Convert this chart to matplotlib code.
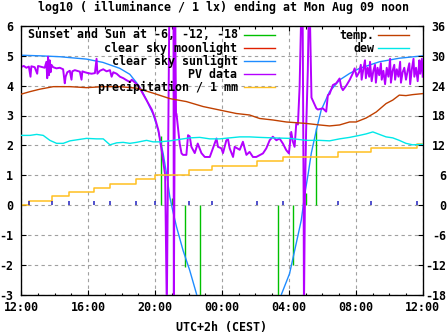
import matplotlib
matplotlib.use('Agg')
import matplotlib.pyplot as plt
from matplotlib.lines import Line2D

# ---------------- data (hours after 12:00 on the left edge) ----------------
x_ticks = [0, 4, 8, 12, 16, 20, 24]
x_labels = ['12:00', '16:00', '20:00', '00:00', '04:00', '08:00', '12:00']
y_ticks = [-3, -2, -1, 0, 1, 2, 3, 4, 5, 6]
y2_ticks = [-18, -12, -6, 0, 6, 12, 18, 24, 30, 36]

# sunset / sun at -6, -12, -18 (impulses)
sun_t = [8.38, 9.04, 9.81, 10.69, 15.34, 16.24, 17.00, 17.64]
sun_v = [2.30, 0.23, -2.08, -3.50, -3.50, -2.02, 0.40, 2.58]

# clear sky moonlight (below the plotted range in this period)
moon_t = []
moon_v = []

# clear sky sunlight
sunl_t = [0.0, 1.12, 2.31, 3.90, 4.88, 5.89, 6.49, 6.89, 7.19, 7.49, 7.68, 7.88,
          8.18, 8.48, 8.68, 8.88, 9.07, 9.28, 9.67, 10.07, 10.47, 10.61,
          15.39, 15.55, 16.04, 16.44, 16.74, 16.96, 17.16, 17.34, 17.64, 17.93,
          18.43, 19.03, 19.63, 20.22, 21.41, 22.60, 24.0]
sunl_v = [5.02, 5.00, 4.97, 4.89, 4.78, 4.58, 4.38, 4.10, 3.85, 3.52, 3.28, 3.05,
          2.51, 1.73, 1.06, 0.27, -0.23, -0.73, -1.52, -2.19, -2.97, -3.30,
          -3.30, -3.00, -2.30, -1.28, -0.51, 0.40, 1.07, 1.74, 2.51, 3.18,
          3.80, 4.19, 4.41, 4.58, 4.80, 4.92, 5.00]

# PV data
pv_t = [0.00, 0.15, 0.30, 0.45, 0.55, 0.60, 0.80, 0.95, 1.00, 1.20, 1.40, 1.50,
        1.55, 1.60, 1.65, 1.70, 1.75, 1.80, 1.90, 2.10, 2.30, 2.50, 2.60, 2.65,
        2.75, 2.90, 3.00, 3.05, 3.20, 3.50, 3.60, 3.65, 3.80, 4.00, 4.20, 4.40,
        4.50, 4.55, 4.70, 4.90, 5.10, 5.30, 5.40, 5.50, 5.70, 5.90, 6.10, 6.30,
        6.50, 6.60, 6.80, 7.00, 7.20, 7.50, 7.80, 8.00, 8.20, 8.40, 8.50, 8.60,
        8.70, 8.85, 9.10, 9.12, 9.20, 9.25,
        9.28, 9.47, 9.58, 9.67, 9.87, 9.97, 10.07, 10.17, 10.37, 10.55, 10.77,
        10.97, 11.27, 11.46, 11.67, 11.76, 11.96, 12.06, 12.26, 12.36, 12.46,
        12.66, 12.76, 13.06, 13.25, 13.46, 13.65, 13.85, 14.05, 14.45, 14.65,
        14.85, 15.04, 15.25, 15.44, 15.64, 15.84, 16.00, 16.14, 16.24, 16.34,
        16.44, 16.54, 16.64, 16.74, 16.82, 16.88, 16.90, 16.96, 17.03, 17.13,
        17.19, 17.25, 17.35, 17.64, 17.73, 18.03, 18.23, 18.33, 18.43, 18.63,
        18.83, 19.03, 19.13, 19.23, 19.43, 19.63, 19.82, 19.93, 20.05, 20.20,
        20.30, 20.35, 20.45, 20.55, 20.60, 20.70, 20.80, 20.85, 20.95, 21.05,
        21.15, 21.20, 21.30, 21.40, 21.50, 21.55, 21.65, 21.75, 21.85, 21.95,
        22.05, 22.10, 22.20, 22.30, 22.35, 22.45, 22.55, 22.65, 22.70, 22.80,
        22.90, 23.00, 23.10, 23.20, 23.25, 23.35, 23.45, 23.50, 23.60, 23.70,
        23.80, 23.85, 23.95, 24.00]
pv_v = [4.63, 4.66, 4.60, 4.64, 4.30, 4.65, 4.62, 4.40, 4.66, 4.63, 4.60, 4.80,
        4.25, 4.97, 4.35, 4.85, 4.45, 4.70, 4.62, 4.58, 4.60, 4.55, 4.08, 4.30,
        4.45, 4.50, 4.20, 4.48, 4.52, 4.47, 4.20, 4.48, 4.45, 4.42, 4.40, 4.42,
        4.90, 4.40, 4.50, 4.55, 4.48, 4.52, 4.30, 4.45, 4.40, 4.30, 4.25, 4.18,
        4.12, 4.20, 4.10, 4.00, 3.80, 3.50, 3.20, 2.90, 2.50, 1.80, 1.40, 1.00,
        -3.50, 6.50, 6.50, -3.50, 6.50, 3.08,
        3.05, 2.06, 1.73, 1.68, 1.68, 2.34, 2.30, 1.95, 1.74, 2.06, 1.74,
        1.61, 1.61, 1.90, 2.23, 1.95, 1.90, 1.74, 2.17, 2.20, 1.90,
        1.61, 1.95, 1.85, 2.12, 1.68, 1.78, 1.61, 1.61, 1.73, 1.90,
        2.17, 2.29, 2.17, 2.23, 2.06, 1.84, 1.73, 2.45, 2.12, 1.95,
        2.73, 2.70, 3.96, 6.50, 6.50, 0.30, -3.50, 0.30, 2.50, 4.50,
        6.50, 6.50, 3.60, 3.24, 3.20, 3.24, 3.13, 3.68, 3.72, 4.02,
        4.08, 4.24, 3.95, 3.85, 4.00, 4.19, 4.41, 4.58, 4.30, 4.45,
        4.70, 4.20, 4.55, 4.85, 4.25, 4.60, 4.30, 4.80, 4.15, 4.50,
        4.70, 4.10, 4.60, 4.35, 4.75, 4.20, 4.50, 4.05, 4.60, 4.30,
        4.90, 4.10, 4.50, 4.70, 4.20, 4.55, 4.30, 4.80, 4.10, 4.45,
        4.60, 4.20, 4.50, 4.75, 4.05, 4.55, 4.90, 4.30, 4.60, 4.15,
        4.85, 4.40, 4.90, 4.30]

# precipitation / 1 mm (accumulated) and individual events
rain_t = [0.0, 0.46, 1.85, 2.87, 4.36, 5.31, 6.83, 8.02, 10.03, 11.40, 14.09,
          15.64, 18.93, 20.92, 23.64, 24.0]
rain_v = [0.0, 0.13, 0.29, 0.42, 0.58, 0.72, 0.88, 1.02, 1.17, 1.31, 1.47,
          1.61, 1.77, 1.90, 2.05, 2.05]
tip_t = [0.46, 1.85, 2.87, 4.36, 5.31, 6.83, 8.02, 10.03, 11.40, 14.09,
         15.64, 18.93, 20.92, 23.64]
tip_v = [0.14, 0.14, 0.14, 0.14, 0.14, 0.14, 0.14, 0.14, 0.14, 0.14,
         0.14, 0.14, 0.14, 0.14]

# temperature and dew point (deg C, right axis)
temp_t = [0.0, 0.52, 1.12, 1.91, 2.91, 3.90, 4.90, 5.89, 6.89, 7.88, 8.88, 9.87,
          10.87, 11.86, 12.86, 13.65, 14.25, 15.04, 15.84, 17.04, 17.83, 18.43,
          19.03, 19.63, 20.02, 20.62, 21.22, 21.81, 22.21, 22.60, 23.00, 23.40, 24.0]
temp_v = [22.3, 22.8, 23.3, 23.8, 23.8, 23.6, 23.8, 23.8, 23.5, 22.5, 21.4, 20.8,
          19.8, 19.1, 18.4, 18.1, 17.4, 17.1, 16.7, 16.4, 16.1, 15.9,
          16.1, 16.7, 16.7, 17.5, 18.7, 20.4, 21.1, 22.1, 22.0, 22.2, 22.4]

dew_t = [0.0, 0.52, 0.92, 1.31, 1.71, 2.11, 2.51, 2.91, 3.50, 3.90, 4.50, 4.90,
         5.30, 5.70, 6.09, 6.49, 6.89, 7.49, 7.88, 8.28, 8.88, 9.47, 10.07, 10.67,
         11.27, 11.86, 12.46, 13.06, 13.65, 14.25, 15.04, 16.04, 17.04, 17.83,
         18.43, 19.03, 19.63, 20.22, 20.62, 21.02, 21.41, 21.81, 22.21, 22.60,
         23.00, 23.40, 24.0]
dew_v = [14.0, 14.0, 14.2, 14.0, 13.0, 12.4, 12.4, 12.9, 13.2, 13.4, 13.3, 13.3,
         12.1, 12.5, 12.6, 12.4, 12.6, 13.0, 12.7, 12.7, 12.9, 13.2, 13.5, 13.6,
         13.3, 13.3, 13.5, 13.7, 13.7, 13.6, 13.5, 13.4, 13.0, 13.0,
         12.9, 13.3, 13.6, 14.0, 14.3, 14.7, 14.2, 13.7, 13.5, 13.0,
         12.4, 12.1, 12.2]

title = 'log10 ( illuminance / 1 lx) ending at Mon Aug 09 noon'
xlabel = 'UTC+2h (CEST)'
left_keys = ['Sunset and Sun at -6, -12, -18', 'clear sky moonlight',
             'clear sky sunlight', 'PV data', 'precipitation / 1 mm']
right_keys = ['temp.', 'dew']

# ---------------- styling ----------------
C_SUN = '#00c000'
C_MOON = '#e02000'
C_SUNL = '#1e8cff'
C_PV = '#b400ff'
C_RAIN = '#ffc020'
C_TIP = '#2020c0'
C_TEMP = '#c04000'
C_DEW = '#00e8e8'

plt.rcParams['font.family'] = ['DejaVu Sans Mono']
plt.rcParams['font.weight'] = 'bold'
FS = 8.37

W, H = 447, 335
fig = plt.figure(figsize=(W / 100, H / 100), dpi=100)
L, R, T, B = 21.3, 422.7, 26.0, 294.5
ax = fig.add_axes([L / W, 1 - B / H, (R - L) / W, (B - T) / H])

def fx(px):
    return px / W

def fy(py):
    return 1 - py / H

lw = 1.0
ax.vlines(sun_t, 0, sun_v, color=C_SUN, lw=lw, zorder=3)
ax.plot(moon_t, moon_v, color=C_MOON, lw=lw, zorder=3)
ax.plot(sunl_t, sunl_v, color=C_SUNL, lw=lw, zorder=3)
ax.plot(pv_t, pv_v, color=C_PV, lw=1.4, zorder=4)
ax.plot(rain_t, rain_v, color=C_RAIN, lw=1.1, zorder=5, drawstyle='steps-post')
ax.vlines(tip_t, 0, tip_v, color=C_TIP, lw=1.1, zorder=5)

ax.set_xlim(0, 24)
ax.set_ylim(-3, 6)
ax.set_xticks(x_ticks)
ax.set_xticklabels(x_labels)
ax.set_xticks(range(0, 25), minor=True)
ax.set_yticks(y_ticks)
ax.set_yticklabels([str(v) for v in y_ticks])
ax.grid(True, which='major', color='#a0a0a0', lw=0.8, linestyle=(0, (3, 3)))
ax.set_axisbelow(True)
ax.tick_params(axis='both', which='both', direction='in', labelsize=FS, width=0.8)
ax.tick_params(axis='x', which='major', length=3.5, top=True, pad=5)
ax.tick_params(axis='x', which='minor', length=1.8, top=True)
ax.tick_params(axis='y', which='major', length=3.5, left=True, right=False, pad=5.8)
for s in ax.spines.values():
    s.set_linewidth(0.9)

ax2 = ax.twinx()
ax2.plot(temp_t, temp_v, color=C_TEMP, lw=lw, zorder=3)
ax2.plot(dew_t, dew_v, color=C_DEW, lw=lw, zorder=3)
ax2.set_ylim(-18, 36)
ax2.set_yticks(y2_ticks)
ax2.set_yticklabels([str(v) for v in y2_ticks])
ax2.tick_params(axis='y', direction='in', length=3.5, labelsize=FS, width=0.8, pad=16.6)
for lbl in ax2.get_yticklabels():
    lbl.set_horizontalalignment('right')
ax2.set_xlim(0, 24)

fig.text(0.5, fy(7), title, ha='center', va='center', fontsize=FS, fontweight='bold')
fig.text(fx((L + R) / 2), fy(327), xlabel, ha='center', va='center', fontsize=FS, fontweight='bold')

# keys
left_cols = [C_SUN, C_MOON, C_SUNL, C_PV, C_RAIN]
for i, (lab, c) in enumerate(zip(left_keys, left_cols)):
    yy = 35 + 13 * i
    fig.text(fx(237.5), fy(yy), lab, ha='right', va='center', fontsize=FS, fontweight='bold')
    fig.add_artist(Line2D([fx(244), fx(275)], [fy(yy), fy(yy)], color=c, lw=1.0))
right_cols = [C_TEMP, C_DEW]
for i, (lab, c) in enumerate(zip(right_keys, right_cols)):
    yy = 35 + 13 * i
    fig.text(fx(374.5), fy(yy), lab, ha='right', va='center', fontsize=FS, fontweight='bold')
    fig.add_artist(Line2D([fx(378), fx(409)], [fy(yy), fy(yy)], color=c, lw=1.0))

fig.savefig('out.png', dpi=100)
